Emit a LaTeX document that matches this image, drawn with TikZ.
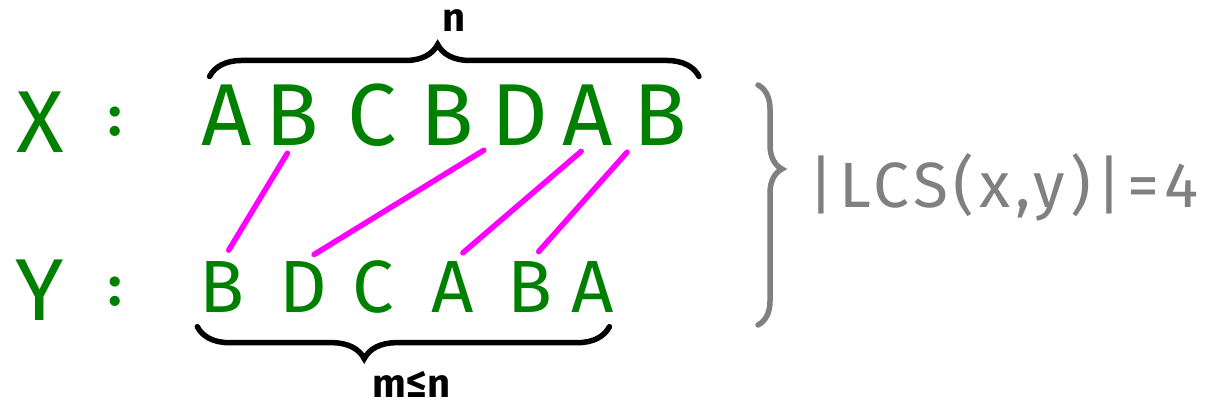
\documentclass[tikz,border=0pt]{standalone}
\usepackage{fontspec}
\setmainfont{Fira Sans}
\usetikzlibrary{positioning, decorations.pathreplacing}
\definecolor{seqgreen}{RGB}{0,128,0}
\definecolor{matchpink}{RGB}{255,0,255}
\definecolor{notegray}{RGB}{128,128,128}

\begin{document}
\begin{tikzpicture}[x=1pt, y=-1pt,
    seqletter/.style={text=seqgreen, inner sep=0pt, font=\fontsize{88}{88}\selectfont},
    seqsmall/.style={seqletter, font=\fontsize{74}{74}\selectfont},
    seqcolon/.style={seqletter, font=\fontsize{56}{56}\selectfont\bfseries},
    matchline/.style={draw=matchpink, line width=5.5pt, line cap=round, shorten <=9pt, shorten >=13pt},
    bracemark/.style={draw=black, line width=5.5pt, line cap=round, decorate},
    bracelabel/.style={inner sep=0pt, font=\fontsize{40}{40}\selectfont\bfseries},
    notebrace/.style={draw=notegray, line width=5.5pt, line cap=round, decorate},
    notetext/.style={text=notegray, inner sep=0pt, font=\fontsize{64}{64}\selectfont\addfontfeature{LetterSpace=8}}
]
    \useasboundingbox (0,0) rectangle (1206,411);

    \node[seqletter] (xname) at (40,122) {X};
    \node[seqcolon] (xcolon) at (115,122) {:};
    \node[seqletter] (yname) at (40,290) {Y};
    \node[seqcolon] (ycolon) at (115,292) {:};

    \foreach \ch/\px [count=\i] in {A/227, B/292, C/372, B/447, D/520, A/588, B/660}
        \node[seqletter] (x\i) at (\px,115) {\ch};
    \foreach \ch/\px [count=\i] in {B/222, D/303, C/373, A/453, B/530, A/593}
        \node[seqsmall] (y\i) at (\px,287) {\ch};

    \foreach \a/\b/\side in {2/1/south, 5/2/south west, 6/4/south, 7/5/south west}
        \draw[matchline] (x\a.\side) -- (y\b.north);

    \draw[bracemark, decoration={brace, amplitude=32pt, aspect=0.466, raise=8pt}]
        ([xshift=8pt]x1.north west) -- node[bracelabel, above=50pt] (nlabel) {n}
        ([xshift=12pt]x7.north east);
    \draw[bracemark, decoration={brace, mirror, amplitude=32pt, aspect=0.405, raise=14pt}]
        ([xshift=-2pt]y1.south west) -- node[bracelabel, below=56pt, xshift=8pt] (mlabel) {m≤n}
        ([xshift=-5pt]y6.south east);

    \coordinate (bracetop) at (758,85);
    \coordinate (bracebot) at (758,325);
    \draw[notebrace, decoration={brace, amplitude=24pt, aspect=0.35}] (bracetop) -- (bracebot);
    \node[notetext, anchor=west] (lcs) at (808,187) {|LCS(x,y)|=4};
\end{tikzpicture}
\end{document}
